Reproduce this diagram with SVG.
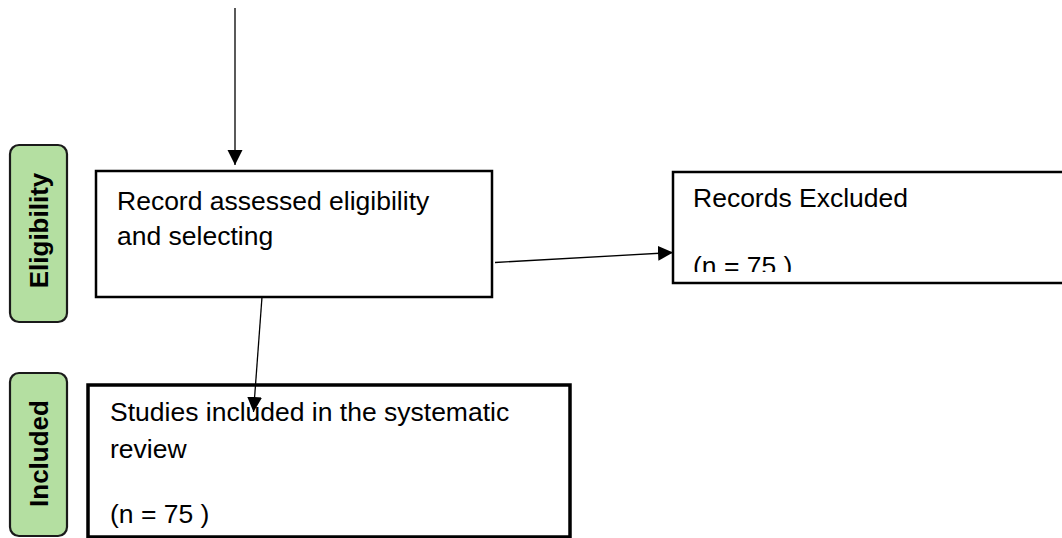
<svg xmlns="http://www.w3.org/2000/svg" width="1062" height="538" viewBox="0 0 1062 538">
<style>
.box{fill:#fff;stroke:#000;stroke-width:2.5}
.lab{fill:#b4dfa1;stroke:#1a1a1a;stroke-width:2.2}
.t{font-family:"Liberation Sans",Arial,sans-serif;font-size:26.5px;fill:#000}
.lt{font-family:"Liberation Sans",Arial,sans-serif;font-size:26px;font-weight:bold;fill:#000}
.conn{stroke:#000;stroke-width:1.3;fill:none}
</style>
<defs>
<marker id="ah" markerUnits="userSpaceOnUse" markerWidth="16" markerHeight="16" viewBox="0 0 16 16" refX="15" refY="8" orient="auto">
<path d="M0,0.5 L15,8 L0,15.5 Z" fill="#000"/>
</marker>
<clipPath id="clipEx"><rect x="673" y="172" width="389" height="100"/></clipPath>
</defs>
<g id="label-eligibility">
<rect class="lab" x="10" y="145" width="57" height="177" rx="9"/>
<text class="lt" transform="translate(47.5,230.5) rotate(-90)" text-anchor="middle">Eligibility</text>
</g>
<g id="label-included">
<rect class="lab" x="10" y="373" width="57" height="163" rx="9"/>
<text class="lt" transform="translate(47.5,453.5) rotate(-90)" text-anchor="middle">Included</text>
</g>
<g id="node-assessed">
<rect class="box" x="96" y="171" width="396" height="126"/>
<text class="t" x="117" y="210">Record assessed eligibility</text>
<text class="t" x="117" y="245">and selecting</text>
</g>
<g id="node-excluded">
<rect class="box" x="673" y="172" width="400" height="111"/>
<text class="t" x="693" y="207">Records Excluded</text>
<text class="t" x="693" y="275" clip-path="url(#clipEx)">(n = 75 )</text>
</g>
<g id="node-included">
<rect class="box" x="88" y="385" width="482" height="152" style="stroke-width:3.5"/>
<text class="t" x="110" y="421">Studies included in the systematic</text>
<text class="t" x="110" y="458">review</text>
<text class="t" x="110" y="523">(n = 75 )</text>
</g>
<g id="connectors">
<line class="conn" x1="235" y1="8" x2="235" y2="165" marker-end="url(#ah)"/>
<line class="conn" x1="495" y1="262.5" x2="673" y2="252.5" marker-end="url(#ah)"/>
<line class="conn" x1="262" y1="297" x2="253.5" y2="412" marker-end="url(#ah)"/>
</g>
</svg>
